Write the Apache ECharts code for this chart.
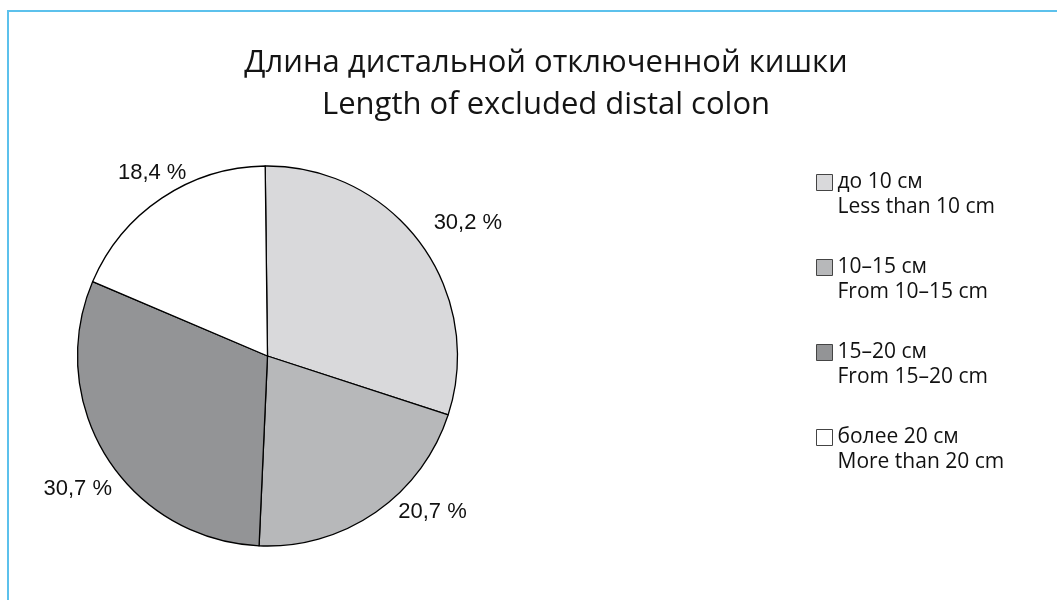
<!DOCTYPE html>
<html>
<head>
<meta charset="utf-8">
<script src="https://cdn.jsdelivr.net/npm/echarts@6/dist/echarts.min.js"></script>
<style>
  html, body { margin: 0; padding: 0; background: #ffffff; }
  #chart { width: 1057px; height: 600px; }
</style>
</head>
<body>
<div id="chart"></div>
<script>
// ---- data ----
const titleLines = ['Длина дистальной отключенной кишки', 'Length of excluded distal colon'];
const categoriesRu = ['до 10 см', '10–15 см', '15–20 см', 'более 20 см'];
const categoriesEn = ['Less than 10 cm', 'From 10–15 cm', 'From 15–20 cm', 'More than 20 cm'];
const values = [30.2, 20.7, 30.7, 18.4];
const valueLabels = ['30,2 %', '20,7 %', '30,7 %', '18,4 %'];

// ---- styles ----
const sliceColors = ['#d9d9db', '#b7b8ba', '#939496', '#ffffff'];
const labelShift = [[-4, -12], [9, -13], [23, 24], [38, -13]];

const chart = echarts.init(document.getElementById('chart'), null, { renderer: 'canvas' });

const option = {
  animation: false,
  backgroundColor: '#ffffff',
  title: {
    text: titleLines.join('\n'),
    left: 541,
    top: 37,
    textAlign: 'center',
    textStyle: {
      fontFamily: 'Open Sans',
      fontSize: 31,
      fontWeight: 'normal',
      color: '#141414',
      lineHeight: 42
    }
  },
  legend: {
    orient: 'vertical',
    left: 816,
    top: 145,
    padding: 0,
    itemGap: 10,
    itemWidth: 16,
    itemHeight: 16,
    icon: 'rect',
    itemStyle: { borderColor: '#444444', borderWidth: 1 },
    textStyle: {
      fontFamily: 'Open Sans',
      fontSize: 21,
      color: '#111111',
      lineHeight: 25
    },
    formatter: function (name) {
      const i = categoriesRu.indexOf(name);
      return '\n' + name + '\n' + categoriesEn[i];
    },
    data: categoriesRu
  },
  graphic: [{
    type: 'polyline',
    silent: true,
    shape: { points: [[8, 600], [8, 11], [1057, 11]] },
    style: { stroke: '#5cc1ec', lineWidth: 2, fill: null }
  }],
  series: [{
    type: 'pie',
    center: [267.5, 356],
    radius: 190,
    startAngle: 90.7,
    clockwise: true,
    avoidLabelOverlap: false,
    silent: true,
    itemStyle: { borderColor: '#000000', borderWidth: 1.3 },
    label: {
      show: true,
      position: 'outside',
      fontFamily: 'Liberation Sans',
      fontSize: 22,
      color: '#111111',
      formatter: function (p) { return valueLabels[p.dataIndex]; }
    },
    labelLine: { show: false, length: 15, length2: 0 },
    labelLayout: function (p) {
      return { dx: labelShift[p.dataIndex][0], dy: labelShift[p.dataIndex][1] };
    },
    data: categoriesRu.map(function (n, i) {
      return { name: n, value: values[i], itemStyle: { color: sliceColors[i] } };
    })
  }]
};

chart.setOption(option);
</script>
</body>
</html>
